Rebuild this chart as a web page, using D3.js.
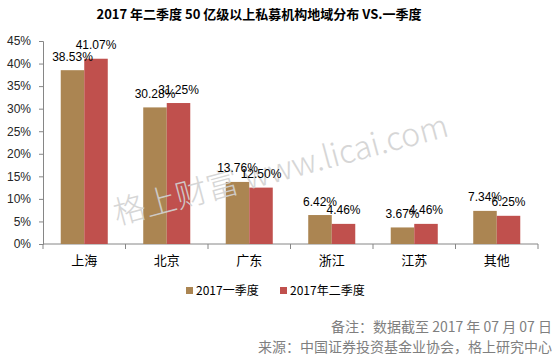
<!DOCTYPE html>
<html>
<head>
<meta charset="utf-8">
<script src="https://cdn.jsdelivr.net/npm/d3@7"></script>
<style>
  body { margin: 0; background: #fff; }
  svg { display: block; }
</style>
</head>
<body>
<svg width="557" height="361"></svg>
<script>
// data
const regions = ["上海", "北京", "广东", "浙江", "江苏", "其他"];
const q1 = [38.53, 30.28, 13.76, 6.42, 3.67, 7.34];
const q2 = [41.07, 31.25, 12.50, 4.46, 4.46, 6.25];
const seriesNames = ["2017一季度", "2017年二季度"];
const yTicks = [0, 5, 10, 15, 20, 25, 30, 35, 40, 45];

const colors = ["#AB8552", "#C0504D"];
const svg = d3.select("svg");

const x = d3.scaleBand().domain(regions).range([43, 538]).paddingInner(0.43).paddingOuter(0.215);
const band = d3.scaleBand().domain([0, 1]).range([0, x.bandwidth()]);
const y = d3.scaleLinear().domain([0, 45]).range([244, 41]);

// title
svg.append("text")
  .attr("x", 259).attr("y", 19)
  .attr("text-anchor", "middle")
  .style("font-family", "'Noto Sans CJK SC', sans-serif")
  .style("font-size", "13px")
  .style("font-weight", "bold")
  .attr("fill", "#000")
  .text("2017 年二季度 50 亿级以上私募机构地域分布 VS.一季度");

// y axis
const yAxis = svg.append("g")
  .attr("transform", "translate(43,0)")
  .call(d3.axisLeft(y).tickValues(yTicks).tickSize(4).tickFormat(d => d + "%"));
yAxis.select(".domain").attr("stroke", "#868686");
yAxis.selectAll(".tick line").attr("stroke", "#868686");
yAxis.selectAll("text")
  .attr("x", -12)
  .style("font-family", "'Liberation Sans', Arial, sans-serif")
  .style("font-size", "12px")
  .attr("fill", "#262626");

// x axis
const xAxis = svg.append("g").attr("transform", "translate(0,244)");
xAxis.append("line").attr("x1", 43).attr("x2", 538).attr("stroke", "#868686");
xAxis.selectAll(".tk")
  .data(d3.range(regions.length + 1))
  .enter().append("line")
  .attr("x1", i => 43 + i * x.step()).attr("x2", i => 43 + i * x.step())
  .attr("y1", 0).attr("y2", 5)
  .attr("stroke", "#868686");
xAxis.selectAll(".lbl")
  .data(regions)
  .enter().append("text")
  .attr("x", d => x(d) + x.bandwidth() / 2)
  .attr("y", 21)
  .attr("text-anchor", "middle")
  .style("font-family", "'Noto Sans CJK SC', sans-serif")
  .style("font-size", "13px")
  .attr("fill", "#000")
  .text(d => d);

// bars
[q1, q2].forEach((vals, s) => {
  svg.append("g").selectAll("rect")
    .data(vals)
    .enter().append("rect")
    .attr("x", (d, i) => x(regions[i]) + band(s))
    .attr("y", d => y(d))
    .attr("width", band.bandwidth())
    .attr("height", d => y(0) - y(d))
    .attr("fill", colors[s]);
});

// watermark (sits over the bars)
svg.append("text")
  .attr("transform", "translate(117,225) rotate(-15)")
  .style("font-family", "'Noto Sans CJK SC', sans-serif")
  .style("font-size", "32px")
  .style("font-weight", "300")
  .attr("fill", "#d2d2d2")
  .attr("opacity", 0.9)
  .text("格上财富 www.licai.com");

// value labels
[q1, q2].forEach((vals, s) => {
  svg.append("g").selectAll("text")
    .data(vals)
    .enter().append("text")
    .attr("x", (d, i) => x(regions[i]) + band(s) + band.bandwidth() / 2)
    .attr("y", d => y(d) - 9.5)
    .attr("text-anchor", "middle")
    .style("font-family", "'Liberation Sans', Arial, sans-serif")
    .style("font-size", "12px")
    .attr("fill", "#000")
    .text(d => d.toFixed(2) + "%");
});

// legend
const legX = [186, 280];
seriesNames.forEach((n, i) => {
  svg.append("rect").attr("x", legX[i]).attr("y", 287).attr("width", 7).attr("height", 7).attr("fill", colors[i]);
  svg.append("text")
    .attr("x", legX[i] + 10).attr("y", 295)
    .style("font-family", "'Noto Sans CJK SC', sans-serif")
    .style("font-size", "12px")
    .attr("fill", "#000")
    .text(n);
});

// footer notes
const notes = ["备注：数据截至 2017 年 07 月 07 日", "来源：中国证券投资基金业协会，格上研究中心"];
svg.selectAll(".note")
  .data(notes)
  .enter().append("text")
  .attr("x", 552)
  .attr("y", (d, i) => 332 + i * 20)
  .attr("text-anchor", "end")
  .style("font-family", "'Noto Sans CJK SC', sans-serif")
  .style("font-size", "14px")
  .attr("fill", "#7f7f7f")
  .text(d => d);
</script>
</body>
</html>
